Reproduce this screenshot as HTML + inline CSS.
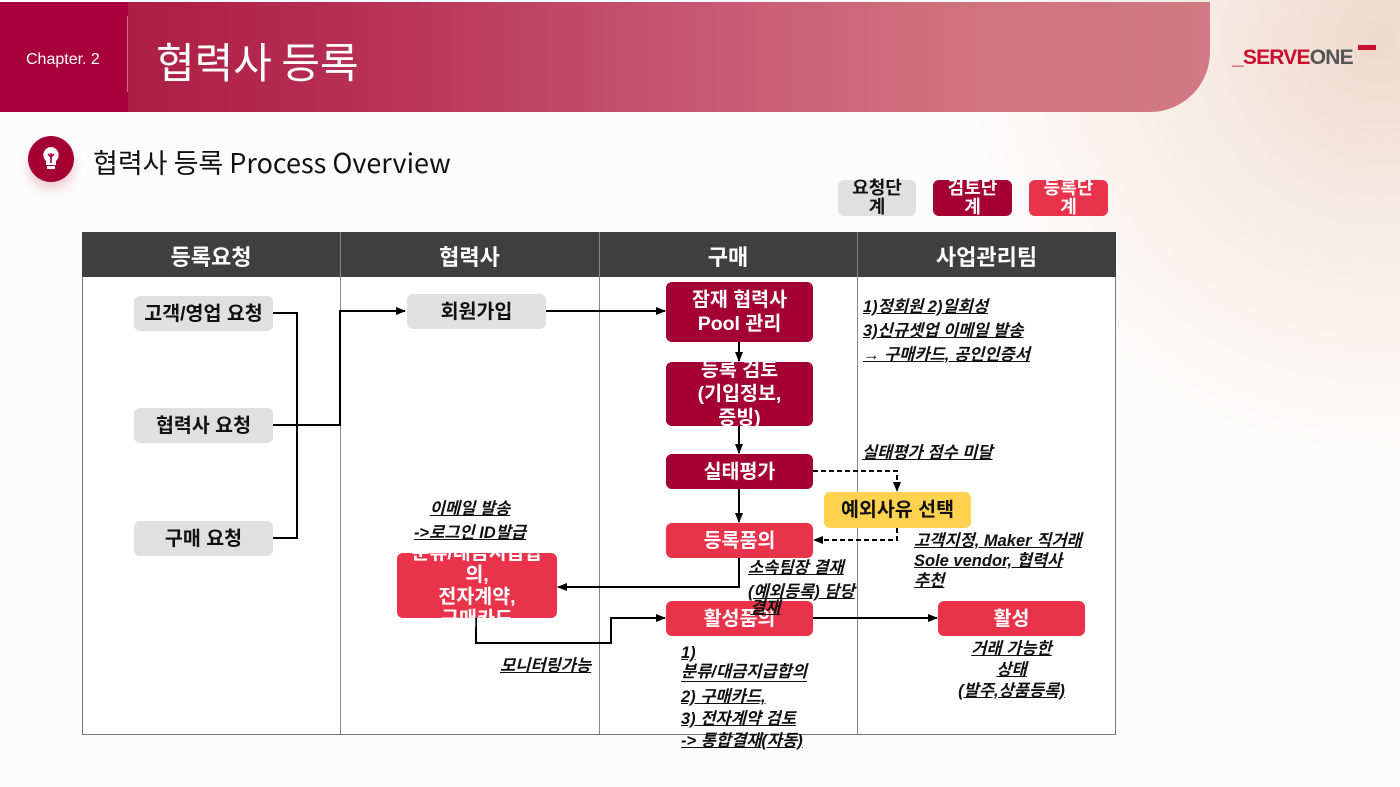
<!DOCTYPE html>
<html><head><meta charset="utf-8">
<style>
*{margin:0;padding:0;box-sizing:border-box}
body{width:1400px;height:787px;overflow:hidden;position:relative;font-family:"Liberation Sans","Noto Sans CJK KR",sans-serif;background:#fcfcfc}
.bg{position:absolute;left:0;top:0;width:1400px;height:787px;background:radial-gradient(ellipse 420px 420px at 1380px 40px,#f0d9cc 0%,#f7ece6 45%,rgba(252,252,252,0) 100%)}
.band{position:absolute;left:0;top:2px;width:1210px;height:110px;border-bottom-right-radius:60px;background:linear-gradient(90deg,#a8173d 0%,#b42a50 25%,#c65470 55%,#d0737f 80%,#d27983 100%)}
.chap{position:absolute;left:0;top:2px;width:128px;height:110px;background:#a7003a}
.chapt{position:absolute;left:26px;top:51px;color:#fff;font-size:16px}
.sep{position:absolute;left:127px;top:16px;width:1px;height:76px;background:#d66a86}
.title{position:absolute;left:156px;top:30px;color:#fff;font-size:42px;font-family:"Noto Sans CJK KR",sans-serif;font-weight:400}
.abs{position:absolute}
.box{position:absolute;border-radius:6px;display:flex;align-items:center;justify-content:center;text-align:center;font-weight:bold;font-size:19.5px;line-height:24px;font-family:"Liberation Sans","Noto Sans CJK KR",sans-serif;white-space:nowrap}
.g{background:#e0e0e0;color:#111}
.d{background:#a50034;color:#fff}
.r{background:#e8334a;color:#fff}
.y{background:#ffd24f;color:#111}
.note{position:absolute;font-size:16.5px;font-weight:bold;font-style:italic;text-decoration:underline;color:#111;line-height:24px;white-space:nowrap}
.th{position:absolute;top:240px;text-align:center;color:#fff;font-size:22px;font-weight:bold}
</style></head><body>
<div class="bg"></div>
<div class="band"></div>
<div class="chap"></div>
<div class="chapt">Chapter. 2</div>
<div class="sep"></div>
<div class="title">협력사 등록</div>
<div class="abs" style="left:1232px;top:46px;font-size:21px;font-weight:bold;letter-spacing:-0.8px"><span style="color:#c8102e">_SERVE</span><span style="color:#555">ONE</span></div>
<div class="abs" style="left:1358px;top:45px;width:18px;height:5px;background:#c8102e"></div>

<div class="abs" style="left:28px;top:136px;width:46px;height:46px;border-radius:50%;background:#a50034;box-shadow:0 8px 10px rgba(200,80,100,0.25)"></div>
<svg class="abs" style="left:28px;top:136px" width="46" height="46"><path d="M23 11a8 8 0 0 0-5 14v4h10v-4a8 8 0 0 0-5-14z" fill="#fff"/><rect x="19" y="30" width="8" height="3" fill="#fff"/><path d="M23 17v10M20 18l3 3 3-3" stroke="#a50034" stroke-width="1.6" fill="none"/></svg>
<div class="abs" style="left:93px;top:142px;font-size:27px;color:#111;font-family:'Noto Sans CJK KR',sans-serif">협력사 등록 Process Overview</div>

<div class="box g" style="left:838px;top:180px;width:78px;height:36px;font-size:18px;line-height:19px">요청단<br>계</div>
<div class="box d" style="left:933px;top:180px;width:79px;height:36px;font-size:18px;line-height:19px;overflow:hidden">검토단<br>계</div>
<div class="box r" style="left:1029px;top:180px;width:79px;height:36px;font-size:18px;line-height:19px;overflow:hidden">등록단<br>계</div>

<div class="abs" style="left:82px;top:232px;width:1034px;height:45px;background:#3f3f3f"></div>
<div class="abs" style="left:82px;top:277px;width:1034px;height:458px;border:1px solid #777;border-top:none;background:#fff"></div>
<div class="abs" style="left:340px;top:232px;width:1px;height:502px;background:#888"></div>
<div class="abs" style="left:599px;top:232px;width:1px;height:502px;background:#888"></div>
<div class="abs" style="left:857px;top:232px;width:1px;height:502px;background:#888"></div>
<div class="th" style="left:82px;width:258px">등록요청</div>
<div class="th" style="left:340px;width:259px">협력사</div>
<div class="th" style="left:599px;width:258px">구매</div>
<div class="th" style="left:857px;width:259px">사업관리팀</div>

<svg class="abs" style="left:0;top:0" width="1400" height="787">
<defs><marker id="a" markerUnits="userSpaceOnUse" markerWidth="10" markerHeight="10" refX="9" refY="5" orient="auto"><path d="M0 1L10 5L0 9z" fill="#000"/></marker></defs>
<g stroke="#000" stroke-width="2" fill="none">
<path d="M273 313H297V538H273"/>
<path d="M273 425H340V311H405" marker-end="url(#a)"/>
<path d="M546 311H665" marker-end="url(#a)"/>
<path d="M739 342V361" marker-end="url(#a)"/>
<path d="M739 426V453" marker-end="url(#a)"/>
<path d="M739 489V522" marker-end="url(#a)"/>
<path d="M739 558V587H558" marker-end="url(#a)"/>
<path d="M476 618V643H611V618H665" marker-end="url(#a)"/>
<path d="M813 618H937" marker-end="url(#a)"/>
<path d="M813 471H897V491" stroke-dasharray="5,3" marker-end="url(#a)"/>
<path d="M897 528V540H814" stroke-dasharray="5,3" marker-end="url(#a)"/>
</g></svg>

<div class="box g" style="left:134px;top:296px;width:139px;height:35px">고객/영업 요청</div>
<div class="box g" style="left:134px;top:408px;width:139px;height:35px">협력사 요청</div>
<div class="box g" style="left:134px;top:521px;width:139px;height:35px">구매 요청</div>
<div class="box g" style="left:407px;top:294px;width:139px;height:35px">회원가입</div>
<div class="box d" style="left:666px;top:282px;width:147px;height:60px">잠재 협력사<br>Pool 관리</div>
<div class="box d" style="left:666px;top:362px;width:147px;height:64px">등록 검토<br>(기입정보,<br>증빙)</div>
<div class="box d" style="left:666px;top:454px;width:147px;height:35px">실태평가</div>
<div class="box y" style="left:824px;top:492px;width:147px;height:36px">예외사유 선택</div>
<div class="box r" style="left:666px;top:523px;width:147px;height:35px">등록품의</div>
<div class="box r" style="left:397px;top:553px;width:160px;height:65px;line-height:22px">분류/대금지급합<br>의,<br>전자계약,<br>구매카드</div>
<div class="box r" style="left:666px;top:601px;width:147px;height:35px">활성품의</div>
<div class="box r" style="left:938px;top:601px;width:147px;height:35px">활성</div>

<div class="note" style="left:863px;top:295px">1)정회원 2)일회성<br>3)신규셋업 이메일 발송<br>→ 구매카드, 공인인증서</div>
<div class="note" style="left:862px;top:441px">실태평가 점수 미달</div>
<div class="note" style="left:914px;top:531px;line-height:20px">고객지정, Maker 직거래<br>Sole vendor, 협력사<br>추천</div>
<div class="note" style="left:395px;top:497px;width:150px;text-align:center">이메일 발송<br>->로그인 ID발급</div>
<div class="note" style="left:748px;top:556px">소속팀장 결재<br>(예외등록) 담당</div>
<div class="note" style="left:750px;top:596px">결재</div>
<div class="note" style="left:500px;top:654px">모니터링가능</div>
<div class="note" style="left:681px;top:642px;line-height:22px">1)<br><span style="position:relative;top:-3px">분류/대금지급합의</span><br>2) 구매카드,<br>3) 전자계약 검토<br>-> 통합결재(자동)</div>
<div class="note" style="left:928px;top:639px;width:167px;text-align:center;line-height:21px">거래 가능한<br>상태<br>(발주,상품등록)</div>
</body></html>
